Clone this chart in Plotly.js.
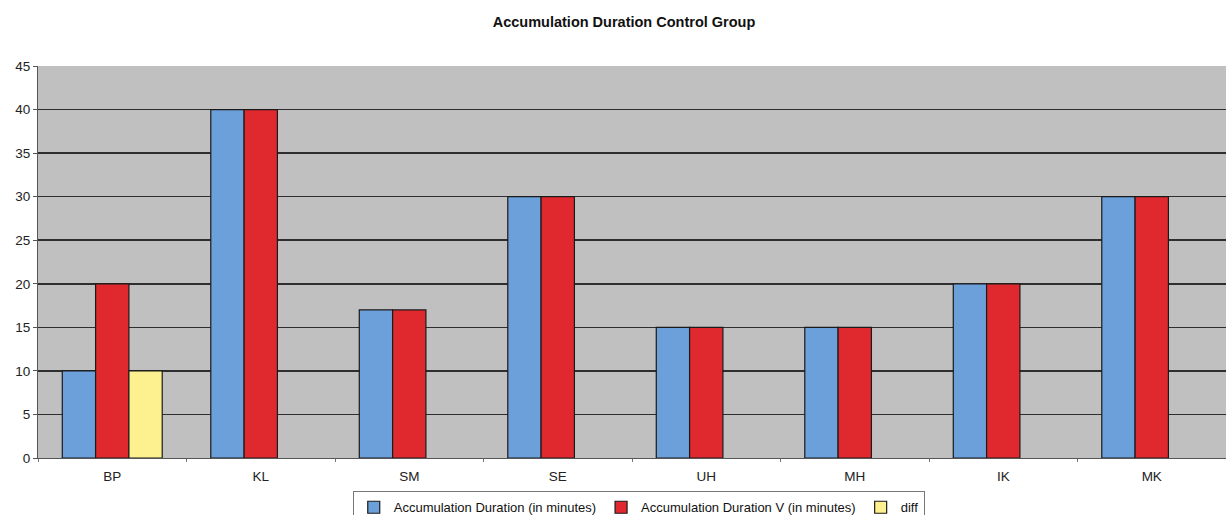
<!DOCTYPE html>
<html>
<head>
<meta charset="utf-8">
<script src="https://cdn.plot.ly/plotly-3.0.1.min.js"></script>
<style>
  html, body { margin: 0; padding: 0; background: #ffffff; overflow: hidden; }
  #chart { width: 1226px; height: 515px; }
</style>
</head>
<body>
<div id="chart"></div>
<script>
// Participants of the control group
const subjects = ['BP', 'KL', 'SM', 'SE', 'UH', 'MH', 'IK', 'MK'];

// Accumulation duration in minutes
const accumulation = [10, 40, 17, 30, 15, 15, 20, 30];
const accumulationV = [20, 40, 17, 30, 15, 15, 20, 30];
const diff = [10, null, null, null, null, null, null, null];

const seriesNames = [
  'Accumulation Duration (in minutes)',
  'Accumulation Duration V (in minutes)',
  'diff'
];

const outline = { color: '#1a1a1a', width: 1.2 };

const traces = [
  { type: 'bar', x: subjects, y: accumulation, name: seriesNames[0],
    marker: { color: '#6ca0da', line: outline } },
  { type: 'bar', x: subjects, y: accumulationV, name: seriesNames[1],
    marker: { color: '#e0292f', line: outline } },
  { type: 'bar', x: subjects, y: diff, name: seriesNames[2],
    marker: { color: '#fdf08e', line: outline } }
];

const layout = {
  width: 1226,
  height: 515,
  margin: { l: 38, r: 0, t: 66, b: 57, autoexpand: false },
  paper_bgcolor: '#ffffff',
  plot_bgcolor: '#c0c0c0',
  font: { family: 'Arial, "Liberation Sans", sans-serif', size: 13.5, color: '#222222' },
  title: {
    text: '<b>Accumulation Duration Control Group</b>',
    font: { size: 14.5, color: '#111111' },
    x: 0.509, xanchor: 'center',
    y: 0.957, yanchor: 'middle'
  },
  barmode: 'group',
  bargap: 0.327,
  bargroupgap: 0,
  xaxis: {
    type: 'category',
    showgrid: false,
    showline: true,
    linecolor: '#555555',
    linewidth: 1,
    ticks: 'outside',
    tickson: 'boundaries',
    ticklen: 3,
    tickcolor: '#777777',
    ticklabelstandoff: 6,
    tickfont: { size: 13.5, color: '#222222' }
  },
  yaxis: {
    range: [0, 45],
    dtick: 5,
    showgrid: true,
    gridcolor: '#2e2e2e',
    gridwidth: 1.5,
    showline: true,
    linecolor: '#555555',
    linewidth: 1,
    ticks: 'outside',
    ticklen: 4,
    tickcolor: '#555555',
    tickfont: { size: 13.5, color: '#222222' },
    zeroline: false
  },
  showlegend: true,
  legend: {
    orientation: 'h',
    xref: 'container', yref: 'container',
    x: 0.521, xanchor: 'center',
    y: 0.046, yanchor: 'top',
    bgcolor: '#ffffff',
    bordercolor: '#777777',
    borderwidth: 1,
    font: { size: 13, color: '#111111' },
    itemwidth: 30,
    tracegroupgap: 0,
    traceorder: 'normal'
  }
};

Plotly.newPlot('chart', traces, layout, { displayModeBar: false, staticPlot: true });
</script>
</body>
</html>
